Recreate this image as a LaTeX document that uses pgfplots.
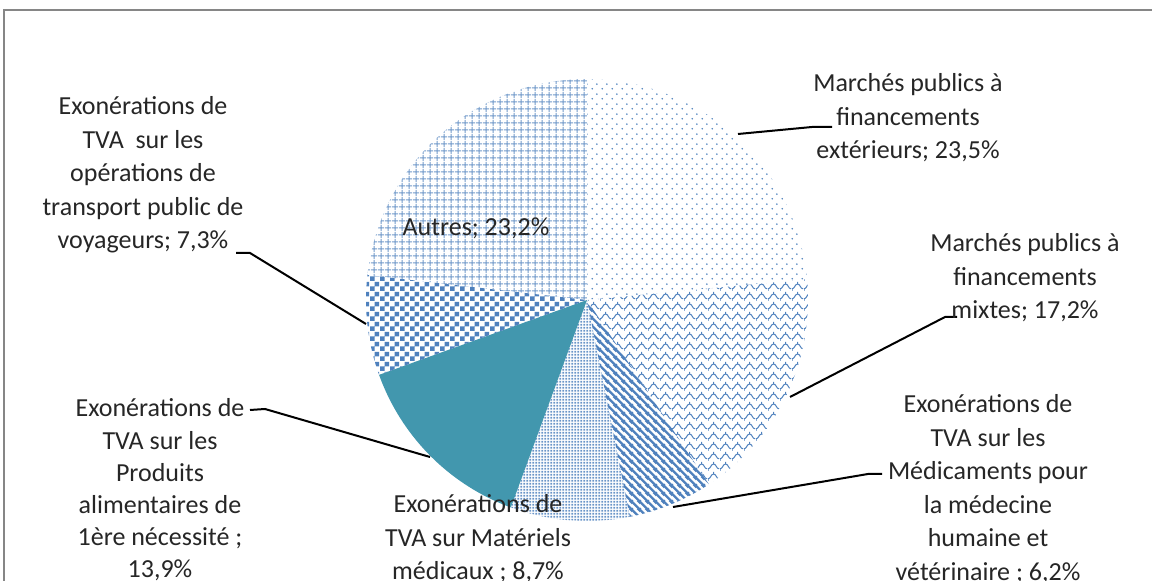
\documentclass[border=0pt]{standalone}
\usepackage{fontspec}
\setmainfont{Carlito}
\usepackage{pgfplots}
\pgfplotsset{compat=1.18}
\usetikzlibrary{patterns}

\definecolor{pblue}{RGB}{79,129,189}
\definecolor{tealc}{RGB}{66,151,174}
\definecolor{framec}{RGB}{134,134,134}
\definecolor{txt}{RGB}{38,38,38}

% sparse staggered dots
\pgfdeclarepatternformonly{sparsedots}{\pgfqpoint{0pt}{0pt}}{\pgfqpoint{5pt}{5pt}}{\pgfqpoint{5pt}{5pt}}{%
  \pgfpathcircle{\pgfqpoint{1.25pt}{1.25pt}}{0.5pt}%
  \pgfpathcircle{\pgfqpoint{3.75pt}{3.75pt}}{0.5pt}%
  \pgfusepath{fill}}
% fine grid
\pgfdeclarepatternformonly{fgrid}{\pgfqpoint{0pt}{0pt}}{\pgfqpoint{3.5pt}{3.5pt}}{\pgfqpoint{3.5pt}{3.5pt}}{%
  \pgfsetlinewidth{0.5pt}%
  \pgfpathmoveto{\pgfqpoint{0pt}{1.75pt}}\pgfpathlineto{\pgfqpoint{3.5pt}{1.75pt}}%
  \pgfpathmoveto{\pgfqpoint{1.75pt}{0pt}}\pgfpathlineto{\pgfqpoint{1.75pt}{3.5pt}}%
  \pgfusepath{stroke}}
% wave (interlocking)
\pgfdeclarepatternformonly{wave}{\pgfqpoint{0pt}{0pt}}{\pgfqpoint{6pt}{5pt}}{\pgfqpoint{6pt}{5pt}}{%
  \pgfsetlinewidth{0.55pt}%
  \pgfpathmoveto{\pgfqpoint{0pt}{1.2pt}}%
  \pgfpathcurveto{\pgfqpoint{1.6pt}{1.2pt}}{\pgfqpoint{1.4pt}{3.8pt}}{\pgfqpoint{3pt}{3.8pt}}%
  \pgfpathcurveto{\pgfqpoint{4.6pt}{3.8pt}}{\pgfqpoint{4.4pt}{1.2pt}}{\pgfqpoint{6pt}{1.2pt}}%
  \pgfpathmoveto{\pgfqpoint{3pt}{3.8pt}}\pgfpathlineto{\pgfqpoint{3pt}{5pt}}%
  \pgfpathmoveto{\pgfqpoint{0pt}{1.2pt}}\pgfpathlineto{\pgfqpoint{0pt}{0pt}}%
  \pgfusepath{stroke}}
% thick north west lines
\pgfdeclarepatternformonly{nwthick}{\pgfqpoint{0pt}{0pt}}{\pgfqpoint{4pt}{4pt}}{\pgfqpoint{4pt}{4pt}}{%
  \pgfsetlinewidth{1.3pt}%
  \pgfpathmoveto{\pgfqpoint{-1pt}{5pt}}\pgfpathlineto{\pgfqpoint{5pt}{-1pt}}%
  \pgfpathmoveto{\pgfqpoint{-1pt}{1pt}}\pgfpathlineto{\pgfqpoint{1pt}{-1pt}}%
  \pgfpathmoveto{\pgfqpoint{3pt}{5pt}}\pgfpathlineto{\pgfqpoint{5pt}{3pt}}%
  \pgfusepath{stroke}}
% fine dots
\pgfdeclarepatternformonly{finedots}{\pgfqpoint{0pt}{0pt}}{\pgfqpoint{1.6pt}{1.6pt}}{\pgfqpoint{1.6pt}{1.6pt}}{%
  \pgfpathrectangle{\pgfqpoint{0.3pt}{0.3pt}}{\pgfqpoint{1pt}{1pt}}%
  \pgfusepath{fill}}
% checkerboard
\pgfdeclarepatternformonly{checker}{\pgfqpoint{0pt}{0pt}}{\pgfqpoint{5pt}{5pt}}{\pgfqpoint{5pt}{5pt}}{%
  \pgfpathrectangle{\pgfqpoint{0pt}{0pt}}{\pgfqpoint{2.5pt}{2.5pt}}%
  \pgfpathrectangle{\pgfqpoint{2.5pt}{2.5pt}}{\pgfqpoint{2.5pt}{2.5pt}}%
  \pgfusepath{fill}}

% slice: #1 cumulative share before (%), #2 share (%), #3 style
\newcommand\slice[3]{%
  \pgfmathsetmacro\aA{90-3.6*#1}%
  \pgfmathsetmacro\aB{90-3.6*(#1+#2)}%
  \edef\doslice{\noexpand\addplot[draw=none,#3,domain=\aB:\aA,samples=90]
    ({587+221*cos(x)},{300-221*sin(x)}) -- (axis cs:587,300) -- cycle;}%
  \doslice}

\tikzset{lbl/.style={font=\fontsize{13pt}{16.75pt}\selectfont, text=txt, align=center, inner sep=0pt}}

\begin{document}
\begin{tikzpicture}
\useasboundingbox (0,0) rectangle (576pt,290.5pt);
\clip (0,0) rectangle (576pt,290.5pt);
\begin{axis}[
  at={(0,0)}, anchor=south west,
  scale only axis, width=576pt, height=290.5pt,
  xmin=0, xmax=1152, ymin=0, ymax=581, y dir=reverse,
  enlargelimits=false, axis lines=none, ticks=none, clip=false,
]
% shares (%): 23.5, 17.2, 6.2, 8.7, 13.9, 7.3, 23.2
\slice{0}{23.5}{pattern=sparsedots, pattern color=pblue}
\slice{23.5}{17.2}{pattern=wave, pattern color=pblue}
\slice{40.7}{6.2}{pattern=nwthick, pattern color=pblue}
\slice{46.9}{8.7}{pattern=finedots, pattern color=pblue!85}
\slice{55.6}{13.9}{fill=tealc}
\slice{69.5}{7.3}{pattern=checker, pattern color=pblue}
\slice{76.8}{23.2}{pattern=fgrid, pattern color=pblue!80}

% leader lines
\addplot[black, line width=1pt, no marks] coordinates {(738,134) (812,127) (832,127)};
\addplot[black, line width=1pt, no marks] coordinates {(790,397) (945,317) (957,317)};
\addplot[black, line width=1pt, no marks] coordinates {(673,507) (868,474) (882,474)};
\addplot[black, line width=1pt, no marks] coordinates {(430,457) (265,409) (250,410)};
\addplot[black, line width=1pt, no marks] coordinates {(366,324) (250,253) (236,253)};

% frame
\draw[framec, line width=1pt] (axis cs:4,700) -- (axis cs:4,10) -- (axis cs:1300,10);

% labels
\node[lbl] at (axis cs:908,118) {Marchés publics à\\financements\\extérieurs; 23,5\%};
\node[lbl] at (axis cs:476,228) {Autres; 23,2\%};
\node[lbl] at (axis cs:1025,278) {Marchés publics à\\financements\\mixtes; 17,2\%};
\node[lbl] at (axis cs:988,489) {Exonérations de\\TVA sur les\\Médicaments pour\\la médecine\\humaine et\\vétérinaire ; 6,2\%};
\node[lbl] at (axis cs:478,539) {Exonérations de\\TVA sur Matériels\\médicaux ; 8,7\%};
\node[lbl, font=\fontsize{13pt}{16.1pt}\selectfont] at (axis cs:160,490) {Exonérations de\\TVA sur les\\Produits\\alimentaires de\\1ère nécessité ;\\13,9\%};
\node[lbl] at (axis cs:143,175) {Exonérations de\\TVA~ sur les\\opérations de\\transport public de\\voyageurs; 7,3\%};
\end{axis}
\end{tikzpicture}
\end{document}
